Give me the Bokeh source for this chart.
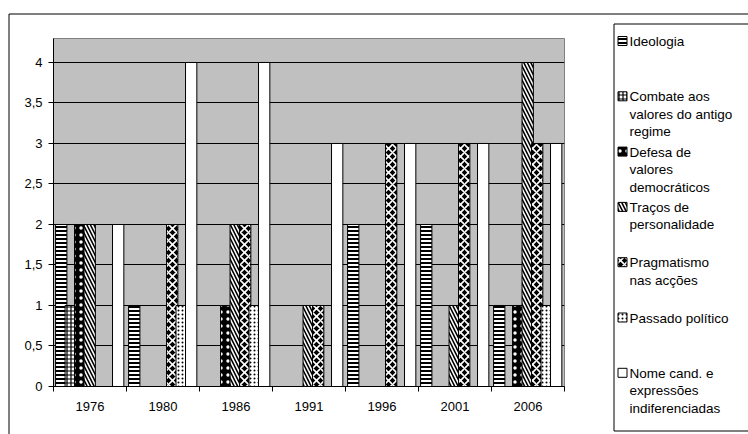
from bokeh.plotting import figure
from bokeh.models import ColumnDataSource, Range1d, FixedTicker, CustomJSTickFormatter
from bokeh.transform import dodge
from bokeh.core.properties import value
from bokeh.embed import file_html
from bokeh.resources import INLINE

years = ["1976", "1980", "1986", "1991", "1996", "2001", "2006"]
series_names = [
    "Ideologia",
    "Combate aos valores do antigo regime",
    "Defesa de valores democráticos",
    "Traços de personalidade",
    "Pragmatismo nas acções",
    "Passado político",
    "Nome cand. e expressões indiferenciadas",
]
legend_lines = [
    ["Ideologia"],
    ["Combate aos", "valores do antigo", "regime"],
    ["Defesa de", "valores", "democráticos"],
    ["Traços de", "personalidade"],
    ["Pragmatismo", "nas acções"],
    ["Passado político"],
    ["Nome cand. e", "expressões", "indiferenciadas"],
]

ideologia = [2, 1, 0, 0, 2, 2, 1]
combate = [1, 0, 0, 0, 0, 0, 0]
defesa = [2, 0, 1, 0, 0, 0, 1]
tracos = [2, 0, 2, 1, 0, 1, 4]
pragmatismo = [0, 2, 2, 1, 3, 3, 3]
passado = [0, 1, 1, 0, 0, 0, 1]
nome = [2, 4, 4, 3, 3, 3, 3]

y_ticks = [0, 0.5, 1, 1.5, 2, 2.5, 3, 3.5, 4]

values = [ideologia, combate, defesa, tracos, pragmatismo, passado, nome]

styles = [
    dict(fill_color="white", hatch_pattern="horizontal_line", hatch_color="black", hatch_scale=4, hatch_weight=2),
    dict(fill_color="white", hatch_pattern="cross", hatch_color="black", hatch_scale=4, hatch_weight=1.2),
    dict(fill_color="black", hatch_pattern="dot", hatch_color="white", hatch_scale=7, hatch_weight=1),
    dict(fill_color="white", hatch_pattern="left_diagonal_line", hatch_color="black", hatch_scale=7, hatch_weight=1.6),
    dict(fill_color="black", hatch_pattern="diagonal_cross", hatch_color="white", hatch_scale=8, hatch_weight=1.6),
    dict(fill_color="white", hatch_pattern="dot", hatch_color="black", hatch_scale=4, hatch_weight=0.8),
    dict(fill_color="white"),
]

FONT = "Liberation Sans"

# ---- chart figure ----
p = figure(
    width=748, height=434,
    x_range=Range1d(0, 7), y_range=Range1d(0, 4.296),
    output_backend="svg", toolbar_location=None,
    min_border_left=53, min_border_right=184, min_border_top=38, min_border_bottom=48,
    background_fill_color="#C0C0C0", border_fill_color="white",
    outline_line_color="#808080",
)

centers = [i + 0.5 for i in range(len(years))]
step = 0.130
bar_w = 0.155
for k, vals in enumerate(values):
    src = ColumnDataSource(dict(x=centers, top=vals))
    off = -0.394 + step * k
    p.vbar(x=dodge("x", off), top="top", bottom=0, width=bar_w, source=src,
           line_color="black", line_width=1, **styles[k])

p.xgrid.visible = False
p.ygrid.ticker = FixedTicker(ticks=y_ticks)
p.ygrid.grid_line_color = "black"
p.ygrid.grid_line_width = 1

p.yaxis.ticker = FixedTicker(ticks=y_ticks)
p.yaxis.formatter = CustomJSTickFormatter(code="return tick.toString().replace('.', ',');")
p.yaxis.minor_tick_line_color = None
p.yaxis.major_tick_out = 5
p.yaxis.major_tick_in = 0
p.yaxis.major_label_standoff = 6
p.yaxis.axis_line_color = "black"
p.yaxis.major_tick_line_color = "black"
p.yaxis.major_label_text_font = FONT
p.yaxis.major_label_text_font_size = "13px"
p.yaxis.major_label_text_color = "black"

p.xaxis.ticker = FixedTicker(ticks=centers, minor_ticks=list(range(len(years) + 1)))
p.xaxis.formatter = CustomJSTickFormatter(args=dict(labels=years), code="return labels[Math.floor(tick)];")
p.xaxis.major_tick_out = 0
p.xaxis.major_tick_in = 0
p.xaxis.minor_tick_out = 5
p.xaxis.minor_tick_in = 0
p.xaxis.minor_tick_line_color = "black"
p.xaxis.major_label_standoff = 10
p.xaxis.axis_line_color = "black"
p.xaxis.major_label_text_font = FONT
p.xaxis.major_label_text_font_size = "13px"
p.xaxis.major_label_text_color = "black"

# ---- overlay figure in page pixel coordinates: chart border + legend ----
lg = figure(
    width=748, height=434,
    x_range=Range1d(0, 748), y_range=Range1d(434, 0),
    output_backend="svg", toolbar_location=None,
    min_border=0, min_border_left=0, min_border_right=0, min_border_top=0, min_border_bottom=0,
    x_axis_location=None, y_axis_location=None,
    background_fill_color=None, border_fill_color=None, outline_line_color=None,
    styles={"position": "absolute", "left": "0px", "top": "0px"},
)
lg.xgrid.visible = False
lg.ygrid.visible = False

# outer chart area border
lg.quad(left=[8.5], right=[800], top=[13.5], bottom=[500], fill_color=None,
        line_color="black", line_width=1)
# legend box
lg.quad(left=[613.5], right=[800], top=[23.5], bottom=[430.5], fill_color="white",
        line_color="black", line_width=1)

first_y = 41.0
slot = 55.3
line_h = 17.5
tx, ty, tt = [], [], []
for k, lines in enumerate(legend_lines):
    y0 = first_y + slot * k
    lg.quad(left=[617.5], right=[626.5], top=[y0 - 5], bottom=[y0 + 4],
            line_color="black", line_width=1, **styles[k])
    for j, t in enumerate(lines):
        tx.append(629)
        ty.append(y0 + line_h * j)
        tt.append(t)
lg.text(x=tx, y=ty, text=tt, text_font=value(FONT), text_font_size="13.5px",
        text_baseline="middle", text_align="left", text_color="black")

open("out.html", "w").write(file_html([p, lg], INLINE))
